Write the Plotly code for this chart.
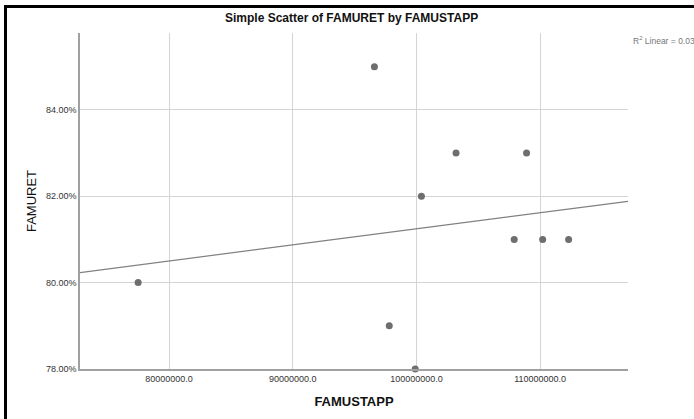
import numpy as np
import plotly.graph_objects as go

famustapp = [77.5e6, 96.6e6, 97.8e6, 99.9e6, 100.4e6, 103.2e6, 107.9e6, 108.9e6, 110.2e6, 112.3e6]
famuret = [80.0, 85.0, 79.0, 78.0, 82.0, 83.0, 81.0, 83.0, 81.0, 81.0]
x_ticks = [80e6, 90e6, 100e6, 110e6]
x_tick_labels = ["80000000.0", "90000000.0", "100000000.0", "110000000.0"]
y_ticks = [78, 80, 82, 84]
y_tick_labels = ["78.00%", "80.00%", "82.00%", "84.00%"]

x_range = [72.8e6, 117.1e6]
y_range = [78.0, 85.78]

slope, intercept = np.polyfit(famustapp, famuret, 1)
pred = np.polyval([slope, intercept], famustapp)
r2 = 1 - np.sum((np.array(famuret) - pred) ** 2) / np.sum((np.array(famuret) - np.mean(famuret)) ** 2)
fit_x = np.array(x_range)
fit_y = slope * fit_x + intercept

fig = go.Figure()
fig.add_trace(go.Scatter(x=fit_x, y=fit_y, mode="lines",
                         line=dict(color="#808080", width=1.2), hoverinfo="skip"))
fig.add_trace(go.Scatter(x=famustapp, y=famuret, mode="markers",
                         marker=dict(color="#6e6e6e", size=7), cliponaxis=False))

L, R, T, B = 80, 628, 33, 369
W, H = 694, 419
pw, ph = R - L, B - T

def px(xp):
    return (xp - L) / pw

def py(yp):
    return (B - yp) / ph

fig.update_layout(
    width=W, height=H,
    margin=dict(l=L, r=W - R, t=T, b=H - B),
    paper_bgcolor="white", plot_bgcolor="white",
    showlegend=False,
    font=dict(family="Liberation Sans, Arial, sans-serif", color="#333"),
    xaxis=dict(range=x_range, tickvals=x_ticks, ticktext=x_tick_labels,
               showgrid=True, gridcolor="#d4d4d4", gridwidth=1,
               showline=True, linecolor="#a0a0a0", linewidth=1.5,
               zeroline=False, ticks="", tickfont=dict(size=9, color="#333"),
               title=dict(text="<b>FAMUSTAPP</b>", font=dict(size=13, color="#111"), standoff=14)),
    yaxis=dict(range=y_range, tickvals=y_ticks, ticktext=y_tick_labels,
               showgrid=True, gridcolor="#d4d4d4", gridwidth=1,
               showline=True, linecolor="#a0a0a0", linewidth=1.5,
               zeroline=False, ticks="", tickfont=dict(size=9, color="#333"),
               title=dict(text="FAMURET", font=dict(size=13, color="#111"), standoff=6)),
    shapes=[
        dict(type="line", xref="paper", yref="paper", x0=px(4), x1=px(700), y0=py(6.5), y1=py(6.5),
             line=dict(color="black", width=3)),
        dict(type="line", xref="paper", yref="paper", x0=px(5.5), x1=px(5.5), y0=py(5), y1=py(425),
             line=dict(color="black", width=3)),
    ],
    annotations=[
        dict(text="<b>Simple Scatter of FAMURET by FAMUSTAPP</b>", xref="paper", yref="paper",
             x=px(351), y=py(18), xanchor="center", yanchor="middle", showarrow=False,
             font=dict(size=12, color="#111")),
        dict(text="R<sup>2</sup> Linear = %.2f" % r2, xref="paper", yref="paper",
             x=px(631), y=py(40), xanchor="left", yanchor="middle", showarrow=False,
             font=dict(size=8.5, color="#777")),
    ],
)

fig.write_html("out.html")
